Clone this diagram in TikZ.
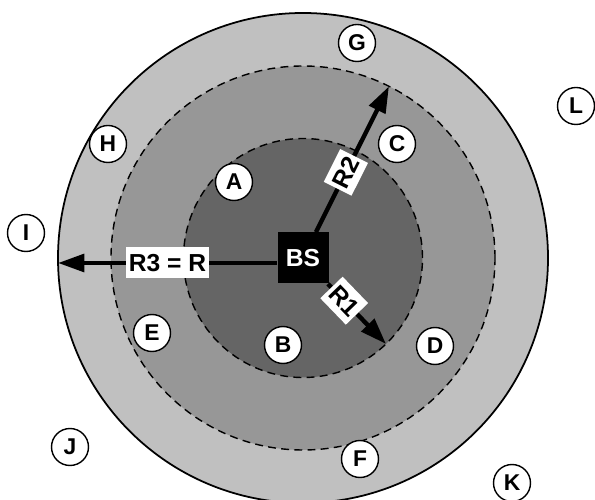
\documentclass[tikz,border=0pt]{standalone}
\usepackage{fontspec}
\setmainfont{Liberation Sans}
\usepackage{tikz}
\usetikzlibrary{arrows.meta,positioning}
\definecolor{zoneout}{HTML}{C0C0C0}
\definecolor{zonemid}{HTML}{979797}
\definecolor{zonein}{HTML}{656565}

\begin{document}
\begin{tikzpicture}[
	user/.style={circle,draw=black,line width=0.8pt,fill=white,minimum size=0.74cm,inner sep=0pt,font=\fontsize{13}{15}\selectfont\bfseries},
	bs/.style={rectangle,fill=black,minimum size=1.02cm,inner sep=0pt,text=white,font=\fontsize{14}{16}\selectfont\bfseries},
	lab/.style={rectangle,fill=white,inner xsep=1.5pt,inner ysep=0pt,minimum height=0.62cm,font=\fontsize{14}{16}\selectfont\bfseries},
	ring/.style={dash pattern=on 4.5pt off 3pt,line width=0.8pt},
	arr/.style={-{Triangle[length=15pt,width=10pt]},line width=2.5pt}
	]
	\useasboundingbox (-6.06,-4.84) rectangle (5.84,5.16);
	\fill[zoneout] (0,0) circle (4.9);
	\draw[line width=1pt] (0,0) circle (4.9);
	\draw[ring,fill=zonemid] (0,0) circle (3.84);
	\draw[ring,fill=zonein] (0,0) circle (2.39);
	\node[bs] (BS) at (0,0) {BS};
	\coordinate (r1tip) at (-46:2.39);
	\coordinate (r2tip) at (63.4:3.84);
	\coordinate (r3tip) at (-4.9,-0.1);
	\draw[arr] (BS) -- node[lab,sloped,pos=0.41] (r2lab) {R2} (r2tip);
	\draw[arr] (BS) -- node[lab,sloped,pos=0.28] (r1lab) {R1} (r1tip);
	\draw[arr] (BS.west |- r3tip) -- node[lab,pos=0.5] (r3lab) {R3 = R} (r3tip);
	\node[bs] at (BS) {BS};
	\node[user] (G) at (1.08,4.30) {G};
	\node[user] (L) at (5.46,3.04) {L};
	\node[user] (H) at (-3.90,2.28) {H};
	\node[user] (C) at (1.88,2.28) {C};
	\node[user] (A) at (-1.38,1.52) {A};
	\node[user] (I) at (-5.54,0.50) {I};
	\node[user] (E) at (-3.02,-1.50) {E};
	\node[user] (B) at (-0.40,-1.74) {B};
	\node[user] (D) at (2.64,-1.76) {D};
	\node[user] (J) at (-4.66,-3.78) {J};
	\node[user] (F) at (1.14,-4.02) {F};
	\node[user] (K) at (4.18,-4.50) {K};
\end{tikzpicture}
\end{document}
